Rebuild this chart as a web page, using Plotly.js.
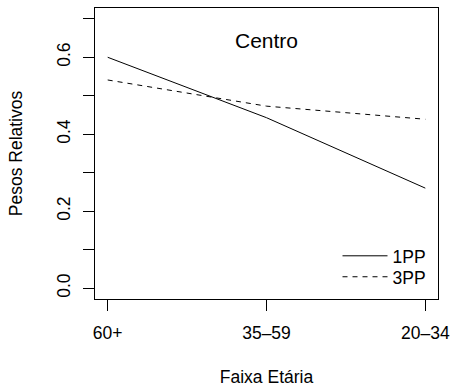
<!DOCTYPE html>
<html>
<head>
<meta charset="utf-8">
<script src="https://cdn.plot.ly/plotly-3.0.1.min.js"></script>
<style>html,body{margin:0;padding:0;background:#fff;}#chart{width:454px;height:387px;}</style>
</head>
<body>
<div id="chart"></div>
<script>
var categories = ["60+", "35\u201359", "20\u201334"];
var pp1 = [0.600, 0.443, 0.260];
var pp3 = [0.541, 0.473, 0.439];
var seriesNames = ["1PP", "3PP"];
var yTickVals = [0.0, 0.2, 0.4, 0.6];
var yTickText = ["0.0", "0.2", "0.4", "0.6"];

var FONT = "Liberation Sans, Arial, Helvetica, sans-serif";

var traces = [
  {x: categories, y: pp1, name: seriesNames[0], type: "scatter", mode: "lines",
   line: {color: "#000", width: 1}, legend: "legend"},
  {x: categories, y: pp3, name: seriesNames[1], type: "scatter", mode: "lines",
   line: {color: "#000", width: 1, dash: "5px,5px"}, legend: "legend2"}
];

function legendAt(y) {
  return {x: 0.707, y: y, xanchor: "left", yanchor: "middle",
          bgcolor: "rgba(0,0,0,0)", borderwidth: 0,
          font: {family: FONT, size: 17.5, color: "#000"},
          itemwidth: 45};
}

var layout = {
  width: 454, height: 387,
  margin: {l: 95, r: 16, t: 8, b: 88, pad: 0},
  paper_bgcolor: "#fff", plot_bgcolor: "#fff",
  font: {family: FONT, size: 17.5, color: "#000"},
  showlegend: true,
  legend: legendAt(0.148),
  legend2: legendAt(0.076),
  xaxis: {
    type: "category", range: [-0.08, 2.08],
    showline: true, mirror: true, linecolor: "#000", linewidth: 1,
    showgrid: false, zeroline: false,
    ticks: "outside", ticklen: 11, tickcolor: "#000", tickwidth: 1,
    ticklabelstandoff: 7,
    title: {text: "Faixa Et\u00e1ria", font: {family: FONT, size: 17.5, color: "#000"}, standoff: 28},
    automargin: false
  },
  yaxis: {
    range: [-0.028, 0.728],
    showline: true, mirror: true, linecolor: "#000", linewidth: 1,
    showgrid: false, zeroline: false,
    tickmode: "array", tickvals: yTickVals, ticktext: yTickText,
    ticks: "outside", ticklen: 11, tickcolor: "#000", tickwidth: 1,
    tickangle: -90,
    ticklabelstandoff: 6,
    minor: {dtick: 0.1, tick0: 0, ticks: "outside", ticklen: 11, tickcolor: "#000", tickwidth: 1, showgrid: false},
    title: {text: "Pesos Relativos", font: {family: FONT, size: 17.5, color: "#000"}, standoff: 26},
    automargin: false
  },
  annotations: [
    {text: "Centro", xref: "paper", yref: "paper", x: 0.5, y: 0.887,
     xanchor: "center", yanchor: "middle", showarrow: false,
     font: {family: FONT, size: 21, color: "#000"}}
  ]
};

Plotly.newPlot("chart", traces, layout, {displayModeBar: false, staticPlot: true});
</script>
</body>
</html>
